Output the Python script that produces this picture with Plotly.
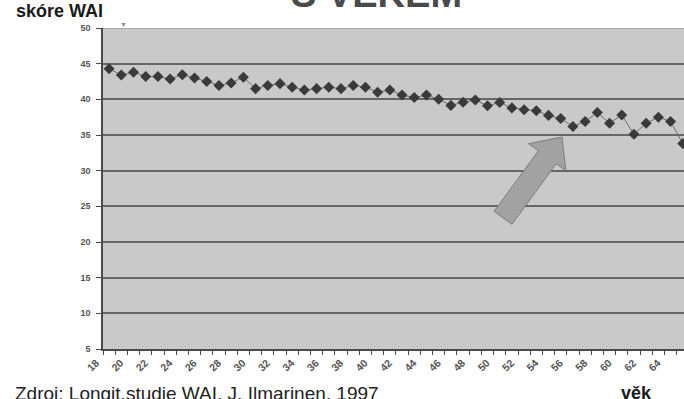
import plotly.graph_objects as go

# WAI score by age (longitudinal study)
ages = list(range(18, 66))
wai = [44.3, 43.4, 43.8, 43.2, 43.2, 42.85, 43.45, 43.0, 42.5, 41.95,
       42.3, 43.1, 41.5, 41.95, 42.2, 41.7, 41.3, 41.5, 41.7, 41.5,
       41.95, 41.7, 41.0, 41.3, 40.6, 40.25, 40.6, 40.0, 39.15, 39.6,
       39.9, 39.1, 39.55, 38.8, 38.55, 38.4, 37.75, 37.3, 36.2, 36.9,
       38.15, 36.65, 37.8, 35.1, 36.65, 37.5, 36.9, 33.8]
y_ticks = list(range(5, 51, 5))
x_label_ticks = list(range(18, 65, 2))

W, H = 684, 399
L, R, T, B = 103, 0, 28, 50
PW, PH = W - L - R, H - T - B

FONT = "Liberation Sans, Arial, sans-serif"

fig = go.Figure()
fig.add_trace(go.Scatter(
    x=ages, y=wai, mode="lines+markers",
    line=dict(color="#6e6e6e", width=1),
    marker=dict(symbol="diamond", size=8.5, color="#3a3a3a"),
    cliponaxis=False, showlegend=False, hoverinfo="x+y",
))


def px_to_paper(px, py):
    return (px - L) / PW, (H - B - py) / PH


# block arrow built in pixel geometry, converted to paper coordinates
tip = (562.0, 137.0)
ux, uy = 0.589, -0.808          # direction tail -> tip
nx, ny = 0.808, 0.589           # normal
head_len, head_half, shaft_half, total_len = 25, 23, 11, 100


def pt(a, b):
    return (tip[0] - a * ux + b * nx, tip[1] - a * uy + b * ny)


poly = [pt(0, 0), pt(head_len, -head_half), pt(head_len, -shaft_half),
        pt(total_len, -shaft_half), pt(total_len, shaft_half),
        pt(head_len, shaft_half), pt(head_len, head_half)]
path = ""
for i, (px, py) in enumerate(poly):
    x, y = px_to_paper(px, py)
    path += ("M" if i == 0 else "L") + f"{x:.4f},{y:.4f} "
path += "Z"
fig.add_shape(type="path", path=path, xref="paper", yref="paper",
              fillcolor="#a2a2a2", line=dict(color="#7c7c7c", width=1),
              layer="above")

# lighter top border line at 50
fig.add_shape(type="line", xref="paper", yref="y", x0=0, x1=1, y0=50, y1=50,
              line=dict(color="#9c9c9c", width=1.5), layer="below")

ann = []
ann.append(dict(text="<b>skóre WAI</b>", x=px_to_paper(14, 0)[0], y=px_to_paper(0, 23)[1],
                xref="paper", yref="paper", xanchor="left", yanchor="bottom",
                showarrow=False, font=dict(family=FONT, size=18, color="#1a1a1a")))
ann.append(dict(text="<b>S VĚKEM</b>", x=px_to_paper(376, 0)[0], y=px_to_paper(0, 17)[1],
                xref="paper", yref="paper", xanchor="center", yanchor="bottom",
                showarrow=False, font=dict(family=FONT, size=38, color="#4a4a4a")))
ann.append(dict(text="Zdroj: Longit.studie WAI, J. Ilmarinen, 1997",
                x=px_to_paper(13, 0)[0], y=px_to_paper(0, 381)[1],
                xref="paper", yref="paper", xanchor="left", yanchor="top",
                showarrow=False, font=dict(family=FONT, size=19, color="#222222")))
ann.append(dict(text="<b>věk</b>", x=px_to_paper(619, 0)[0], y=px_to_paper(0, 381)[1],
                xref="paper", yref="paper", xanchor="left", yanchor="top",
                showarrow=False, font=dict(family=FONT, size=18, color="#1a1a1a")))
ann.append(dict(text="▼", x=px_to_paper(123, 0)[0], y=px_to_paper(0, 24)[1],
                xref="paper", yref="paper", xanchor="center", yanchor="middle",
                showarrow=False, font=dict(family=FONT, size=7, color="#8a8a8a")))

fig.update_layout(
    width=W, height=H,
    margin=dict(l=L, r=R, t=T, b=B, pad=0),
    paper_bgcolor="white", plot_bgcolor="#c9c9c9",
    font=dict(family=FONT),
    annotations=ann,
    xaxis=dict(
        range=[17.5, 65.1], tickmode="array", tickvals=x_label_ticks,
        ticktext=[str(v) for v in x_label_ticks], tickangle=-45,
        ticks="outside", ticklen=2, tickcolor="rgba(0,0,0,0)",
        ticklabelshift=-13,
        tickfont=dict(family=FONT, size=10.5, color="#555555", weight="bold"),
        showgrid=False, zeroline=False,
        showline=True, linecolor="#4a4a4a", linewidth=1.5,
        minor=dict(ticks="outside", tick0=17.5, dtick=1, ticklen=4,
                   tickcolor="#4a4a4a", tickwidth=1, showgrid=False),
    ),
    yaxis=dict(
        range=[5, 50], tickmode="array", tickvals=y_ticks,
        ticks="outside", ticklen=5, tickcolor="#4a4a4a", tickwidth=1,
        ticklabelstandoff=4,
        tickfont=dict(family=FONT, size=9, color="#555555", weight="bold"),
        showgrid=True, gridcolor="#666666", gridwidth=1.5,
        zeroline=False, showline=True, linecolor="#4a4a4a", linewidth=1.5,
    ),
)

fig.write_html("out.html")
